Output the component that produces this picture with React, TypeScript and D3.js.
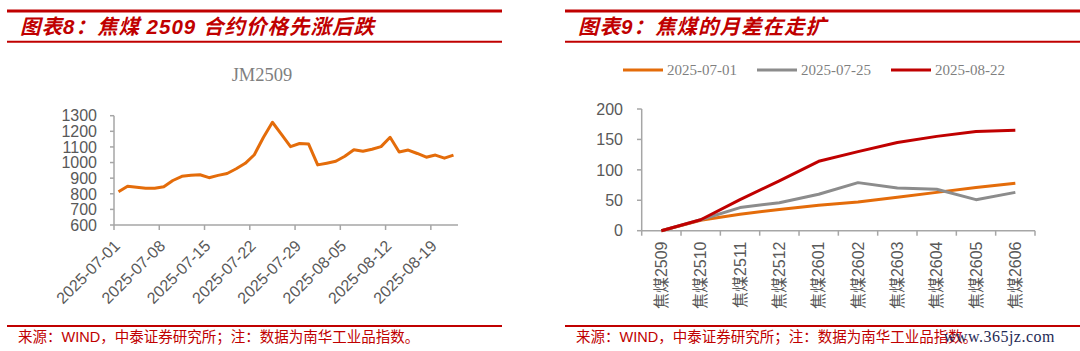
import React from "react";
import * as d3 from "d3";

// 图表8: JM2509 daily close
const jmDates = [
  "2025-07-01", "2025-07-02", "2025-07-03", "2025-07-04", "2025-07-07",
  "2025-07-08", "2025-07-09", "2025-07-10", "2025-07-11", "2025-07-14",
  "2025-07-15", "2025-07-16", "2025-07-17", "2025-07-18", "2025-07-21",
  "2025-07-22", "2025-07-23", "2025-07-24", "2025-07-25", "2025-07-28",
  "2025-07-29", "2025-07-30", "2025-07-31", "2025-08-01", "2025-08-04",
  "2025-08-05", "2025-08-06", "2025-08-07", "2025-08-08", "2025-08-11",
  "2025-08-12", "2025-08-13", "2025-08-14", "2025-08-15", "2025-08-18",
  "2025-08-19", "2025-08-20", "2025-08-21",
];
const jmClose = [
  813, 848, 842, 836, 835, 845, 885, 912, 918, 922,
  903, 918, 930, 960, 995, 1050, 1160, 1258, 1180, 1102,
  1122, 1118, 985, 996, 1008, 1040, 1082, 1072, 1085, 1102,
  1162, 1068, 1080, 1058, 1034, 1048, 1028, 1048,
];
const jmTicks = [600, 700, 800, 900, 1000, 1100, 1200, 1300];

// 图表9: 月差 curve
const contracts = [
  "焦煤2509", "焦煤2510", "焦煤2511", "焦煤2512", "焦煤2601",
  "焦煤2602", "焦煤2603", "焦煤2604", "焦煤2605", "焦煤2606",
];
const curve0701 = [0, 17, 27, 35, 42, 47, 55, 63, 71, 78];
const curve0725 = [0, 18, 38, 46, 60, 79, 70, 68, 51, 63];
const curve0822 = [0, 18, 51, 82, 114, 130, 145, 155, 163, 165];
const spreadTicks = [0, 50, 100, 150, 200];

const series = [
  { name: "2025-07-01", values: curve0701, color: "#E46C0A" },
  { name: "2025-07-25", values: curve0725, color: "#8C8C8C" },
  { name: "2025-08-22", values: curve0822, color: "#C00000" },
];

const RED = "#C00000";
const AXIS = "#A6A6A6";
const LABEL = "#595959";
const SANS = "'Liberation Sans', Arial, 'Noto Sans CJK SC', sans-serif";
const CJK = "'Liberation Sans', 'Noto Sans CJK SC', sans-serif";
const SERIF = "'Liberation Serif', 'Times New Roman', serif";

const Frame: React.FC<{ x0: number; x1: number; title: string; tx: number }> = ({ x0, x1, title, tx }) => (
  <g>
    <line x1={x0} x2={x1} y1={11} y2={11} stroke={RED} strokeWidth={3} />
    <line x1={x0} x2={x1} y1={41.7} y2={41.7} stroke={RED} strokeWidth={2} />
    <text x={tx} y={34} fill={RED} fontSize={20.5} fontWeight="bold" fontStyle="italic"
      fontFamily={CJK} letterSpacing={1}>{title}</text>
    <line x1={x0} x2={x1} y1={326} y2={326} stroke={RED} strokeWidth={1.8} />
    <text x={tx - 2} y={342} fill={RED} fontSize={14.5} fontFamily={CJK}>
      来源：WIND，中泰证券研究所；注：数据为南华工业品指数。
    </text>
  </g>
);

const LeftChart: React.FC = () => {
  const x = d3.scaleBand<string>().domain(jmDates).range([114, 458]).paddingInner(0).paddingOuter(0);
  const y = d3.scaleLinear().domain([600, 1300]).range([225, 115.7]);
  const line = d3.line<number>()
    .x((_, i) => (x(jmDates[i]) as number) + x.bandwidth() / 2)
    .y(d => y(d));
  const tickDates = jmDates.filter((_, i) => i % 5 === 0);
  return (
    <g>
      <text x={262} y={81} textAnchor="middle" fontSize={18.5} fill="#7F7F7F" fontFamily={SERIF}>JM2509</text>
      <line x1={114} x2={114} y1={y(1300)} y2={y(600)} stroke={AXIS} strokeWidth={1.5} />
      {jmTicks.map(t => (
        <g key={t}>
          <line x1={110} x2={114} y1={y(t)} y2={y(t)} stroke={AXIS} strokeWidth={1.5} />
          <text x={97} y={y(t)} dy="0.36em" textAnchor="end" fontSize={16} fill={LABEL} fontFamily={SANS}>{t}</text>
        </g>
      ))}
      <line x1={114} x2={458} y1={y(600)} y2={y(600)} stroke={AXIS} strokeWidth={1.5} />
      {tickDates.map(d => {
        const tx = x(d) as number;
        return (
          <g key={d}>
            <line x1={tx} x2={tx} y1={225} y2={230} stroke={AXIS} strokeWidth={1.5} />
            <text transform={`translate(${tx - 1},${239}) rotate(-45)`} textAnchor="end" dy="0.7em"
              fontSize={16} fill={LABEL} fontFamily={SANS}>{d}</text>
          </g>
        );
      })}
      <path d={line(jmClose) || ""} fill="none" stroke="#E46C0A" strokeWidth={3} strokeLinejoin="round" />
    </g>
  );
};

const RightChart: React.FC = () => {
  const x = d3.scaleBand<string>().domain(contracts).range([641.7, 1035]);
  const y = d3.scaleLinear().domain([0, 200]).range([230.7, 109]);
  const cx = (i: number) => (x(contracts[i]) as number) + x.bandwidth() / 2;
  const line = d3.line<number>().x((_, i) => cx(i)).y(d => y(d));
  const bounds = contracts.map(c => x(c) as number).concat([1035]);
  return (
    <g>
      {series.map((s, k) => {
        const lx = 623 + k * 134;
        return (
          <g key={s.name}>
            <line x1={lx} x2={lx + 40} y1={70} y2={70} stroke={s.color} strokeWidth={3} />
            <text x={lx + 44} y={70} dy="0.33em" fontSize={15} fill="#7F7F7F" fontFamily={SERIF}>{s.name}</text>
          </g>
        );
      })}
      <line x1={641.7} x2={641.7} y1={y(200)} y2={y(0)} stroke={AXIS} strokeWidth={1.5} />
      {spreadTicks.map(t => (
        <g key={t}>
          <line x1={637} x2={641.7} y1={y(t)} y2={y(t)} stroke={AXIS} strokeWidth={1.5} />
          <text x={623} y={y(t)} dy="0.36em" textAnchor="end" fontSize={16} fill={LABEL} fontFamily={SANS}>{t}</text>
        </g>
      ))}
      <line x1={641.7} x2={1035} y1={y(0)} y2={y(0)} stroke={AXIS} strokeWidth={1.5} />
      {bounds.map((b, i) => (
        <line key={i} x1={b} x2={b} y1={y(0)} y2={y(0) + 5} stroke={AXIS} strokeWidth={1.5} />
      ))}
      {contracts.map((c, i) => (
        <text key={c} transform={`translate(${cx(i)},${241.5}) rotate(-90)`} textAnchor="end" dy="0.36em"
          fontSize={16} fill={LABEL} fontFamily={CJK}>{c}</text>
      ))}
      {series.map(s => (
        <path key={s.name} d={line(s.values) || ""} fill="none" stroke={s.color} strokeWidth={3}
          strokeLinejoin="round" />
      ))}
    </g>
  );
};

export default function App() {
  return (
    <svg width={1080} height={351} style={{ position: "absolute", left: 0, top: 0, background: "#fff" }}>
      <rect width={1080} height={351} fill="#fff" />
      <Frame x0={7} x1={502} title="图表8：焦煤 2509 合约价格先涨后跌" tx={20} />
      <Frame x0={565} x1={1080} title="图表9：焦煤的月差在走扩" tx={578} />
      <LeftChart />
      <RightChart />
      <text x={1055} y={342} textAnchor="end" fontSize={16} fill="#1F2A55" fontFamily={SERIF}
        letterSpacing={0.5}>www.365jz.com</text>
    </svg>
  );
}
